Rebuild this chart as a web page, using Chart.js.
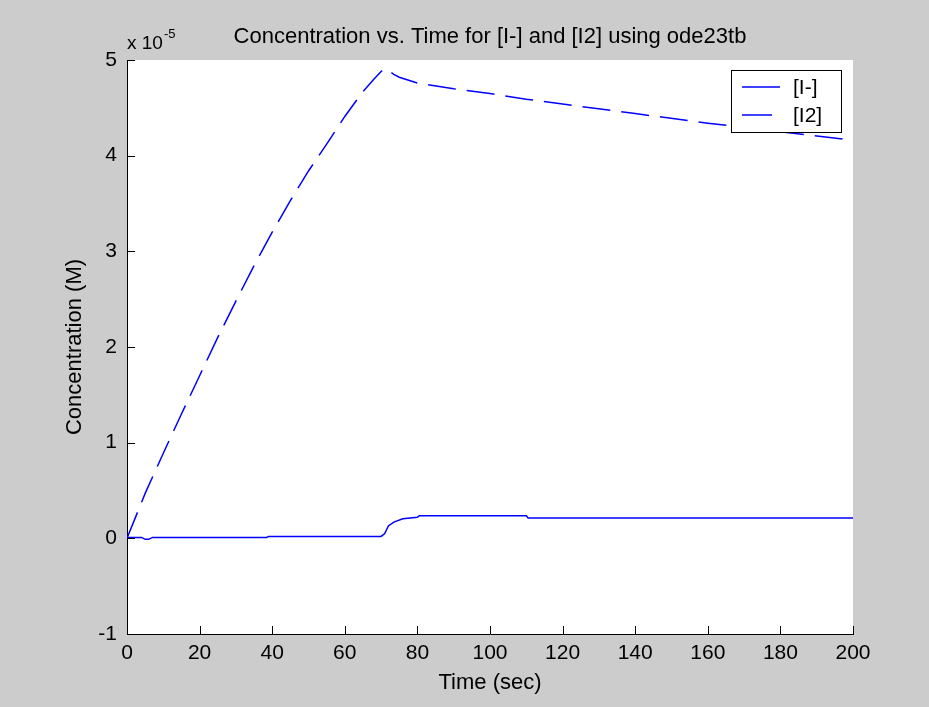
<!DOCTYPE html>
<html lang="en">
<head>
    <meta charset="UTF-8">
    <title>Concentration vs. Time for [I-] and [I2]</title>
    <script src="https://cdn.jsdelivr.net/npm/chart.js"></script>
    <style>
        body { margin: 0; background: #cccccc; }
        canvas { display: block; }
    </style>
</head>
<body>
    <canvas id="myChart" width="929" height="707"></canvas>

    <script>
        // values, concentrations in units of 1e-5 M
        const timeI = [0, 4, 5, 6, 7, 38.5, 39, 70, 71, 72, 73.5, 76, 80, 80.5, 110, 110.5, 200];
        const concI = [0.01, 0.01, -0.01, -0.01, 0.01, 0.01, 0.02, 0.02, 0.05, 0.13, 0.17, 0.205, 0.22, 0.235, 0.235, 0.213, 0.213];

        const timeI2 = [0, 5, 10, 15, 20, 25, 30, 35, 40, 45, 50, 55, 60, 65, 68, 70, 71, 72, 73.5, 75, 80, 90, 100, 110, 120, 140, 160, 180, 200];
        const concI2 = [0, 0.47, 0.89, 1.30, 1.70, 2.10, 2.48, 2.85, 3.20, 3.53, 3.84, 4.12, 4.41, 4.67, 4.80, 4.88, 4.91, 4.89, 4.85, 4.82, 4.76, 4.70, 4.65, 4.59, 4.54, 4.44, 4.34, 4.25, 4.16];

        const seriesLabels = ['[I-]', '[I2]'];
        const xTickLabels = ['0', '20', '40', '60', '80', '100', '120', '140', '160', '180', '200'];
        const yTickLabels = ['-1', '0', '1', '2', '3', '4', '5'];

        const FONT = 'Liberation Sans, Arial, sans-serif';
        const BLUE = '#0000ff';

        const toPoints = (xs, ys) => xs.map((x, i) => ({ x: x, y: ys[i] }));

        // gray figure, white axes, inward ticks, title and legend like matlab
        const matlabLook = {
            id: 'matlabLook',
            beforeDraw: (chart) => {
                const { ctx, chartArea: a } = chart;
                ctx.save();
                ctx.fillStyle = '#cccccc';
                ctx.fillRect(0, 0, chart.width, chart.height);
                ctx.fillStyle = '#ffffff';
                ctx.fillRect(a.left, a.top, a.right - a.left, a.bottom - a.top);
                ctx.restore();
            },
            afterDraw: (chart) => {
                const { ctx, chartArea: a, scales: { x, y } } = chart;
                ctx.save();

                // tick marks pointing into the plot
                ctx.strokeStyle = '#000';
                ctx.lineWidth = 1;
                ctx.beginPath();
                x.ticks.forEach(t => {
                    const px = Math.round(x.getPixelForValue(t.value)) + 0.5;
                    ctx.moveTo(px, a.bottom);
                    ctx.lineTo(px, a.bottom - 8);
                });
                y.ticks.forEach(t => {
                    const py = Math.round(y.getPixelForValue(t.value)) + 0.5;
                    ctx.moveTo(a.left, py);
                    ctx.lineTo(a.left + 8, py);
                });
                ctx.stroke();

                // title
                ctx.fillStyle = '#000';
                ctx.font = '22px ' + FONT;
                ctx.textAlign = 'center';
                ctx.textBaseline = 'middle';
                ctx.fillText('Concentration vs. Time for [I-] and [I2] using ode23tb', (a.left + a.right) / 2, 37);

                // exponent label
                ctx.textAlign = 'left';
                ctx.textBaseline = 'alphabetic';
                ctx.font = '19px ' + FONT;
                ctx.fillText('x 10', a.left, 49);
                const w = ctx.measureText('x 10').width;
                ctx.font = '13px ' + FONT;
                ctx.fillText('-5', a.left + w + 1, 38);

                // legend box
                const lx = 731.5, ly = 70.5, lw = 110, lh = 62;
                ctx.fillStyle = '#ffffff';
                ctx.fillRect(lx, ly, lw, lh);
                ctx.strokeStyle = '#000';
                ctx.strokeRect(lx, ly, lw, lh);

                const rows = [87, 115];
                const ends = [780, 772];
                ctx.font = '21px ' + FONT;
                ctx.textBaseline = 'middle';
                chart.data.datasets.forEach((ds, i) => {
                    ctx.strokeStyle = ds.borderColor;
                    ctx.lineWidth = 1.5;
                    ctx.beginPath();
                    ctx.moveTo(742, rows[i]);
                    ctx.lineTo(ends[i], rows[i]);
                    ctx.stroke();
                    ctx.fillStyle = '#000';
                    ctx.fillText(ds.label, 793, rows[i] + 1);
                });

                ctx.restore();
            }
        };

        const data = {
            datasets: [
                {
                    label: seriesLabels[0],
                    data: toPoints(timeI, concI),
                    borderColor: BLUE,
                    borderWidth: 1.5,
                    pointRadius: 0,
                    tension: 0
                },
                {
                    label: seriesLabels[1],
                    data: toPoints(timeI2, concI2),
                    borderColor: BLUE,
                    borderWidth: 1.5,
                    borderDash: [28, 11],
                    pointRadius: 0,
                    tension: 0
                }
            ]
        };

        const config = {
            type: 'line',
            data: data,
            options: {
                responsive: false,
                animation: false,
                layout: { padding: { top: 60, right: 76, left: 0, bottom: 0 } },
                plugins: {
                    legend: { display: false },
                    title: { display: false },
                    tooltip: { enabled: false }
                },
                scales: {
                    x: {
                        type: 'linear',
                        min: 0,
                        max: 200,
                        afterFit: (s) => { s.height = 73; },
                        grid: { drawOnChartArea: false, drawTicks: false },
                        border: { display: true, color: '#000', width: 1 },
                        ticks: {
                            stepSize: 20,
                            padding: 7,
                            maxRotation: 0,
                            color: '#000',
                            font: { family: FONT, size: 21 },
                            callback: (v, i) => xTickLabels[i]
                        },
                        title: {
                            display: true,
                            text: 'Time (sec)',
                            color: '#000',
                            font: { family: FONT, size: 22 },
                            padding: { top: 0, bottom: 11 }
                        }
                    },
                    y: {
                        min: -1,
                        max: 5,
                        afterFit: (s) => { s.width = 127; },
                        grid: { drawOnChartArea: false, drawTicks: false },
                        border: { display: true, color: '#000', width: 1 },
                        ticks: {
                            stepSize: 1,
                            padding: 10,
                            color: '#000',
                            font: { family: FONT, size: 21 },
                            callback: (v, i) => yTickLabels[i]
                        },
                        title: {
                            display: true,
                            text: 'Concentration (M)',
                            color: '#000',
                            font: { family: FONT, size: 22 },
                            padding: { top: 62, bottom: 0 }
                        }
                    }
                }
            },
            plugins: [matlabLook]
        };

        const ctx = document.getElementById('myChart').getContext('2d');
        new Chart(ctx, config);
    </script>
</body>
</html>
